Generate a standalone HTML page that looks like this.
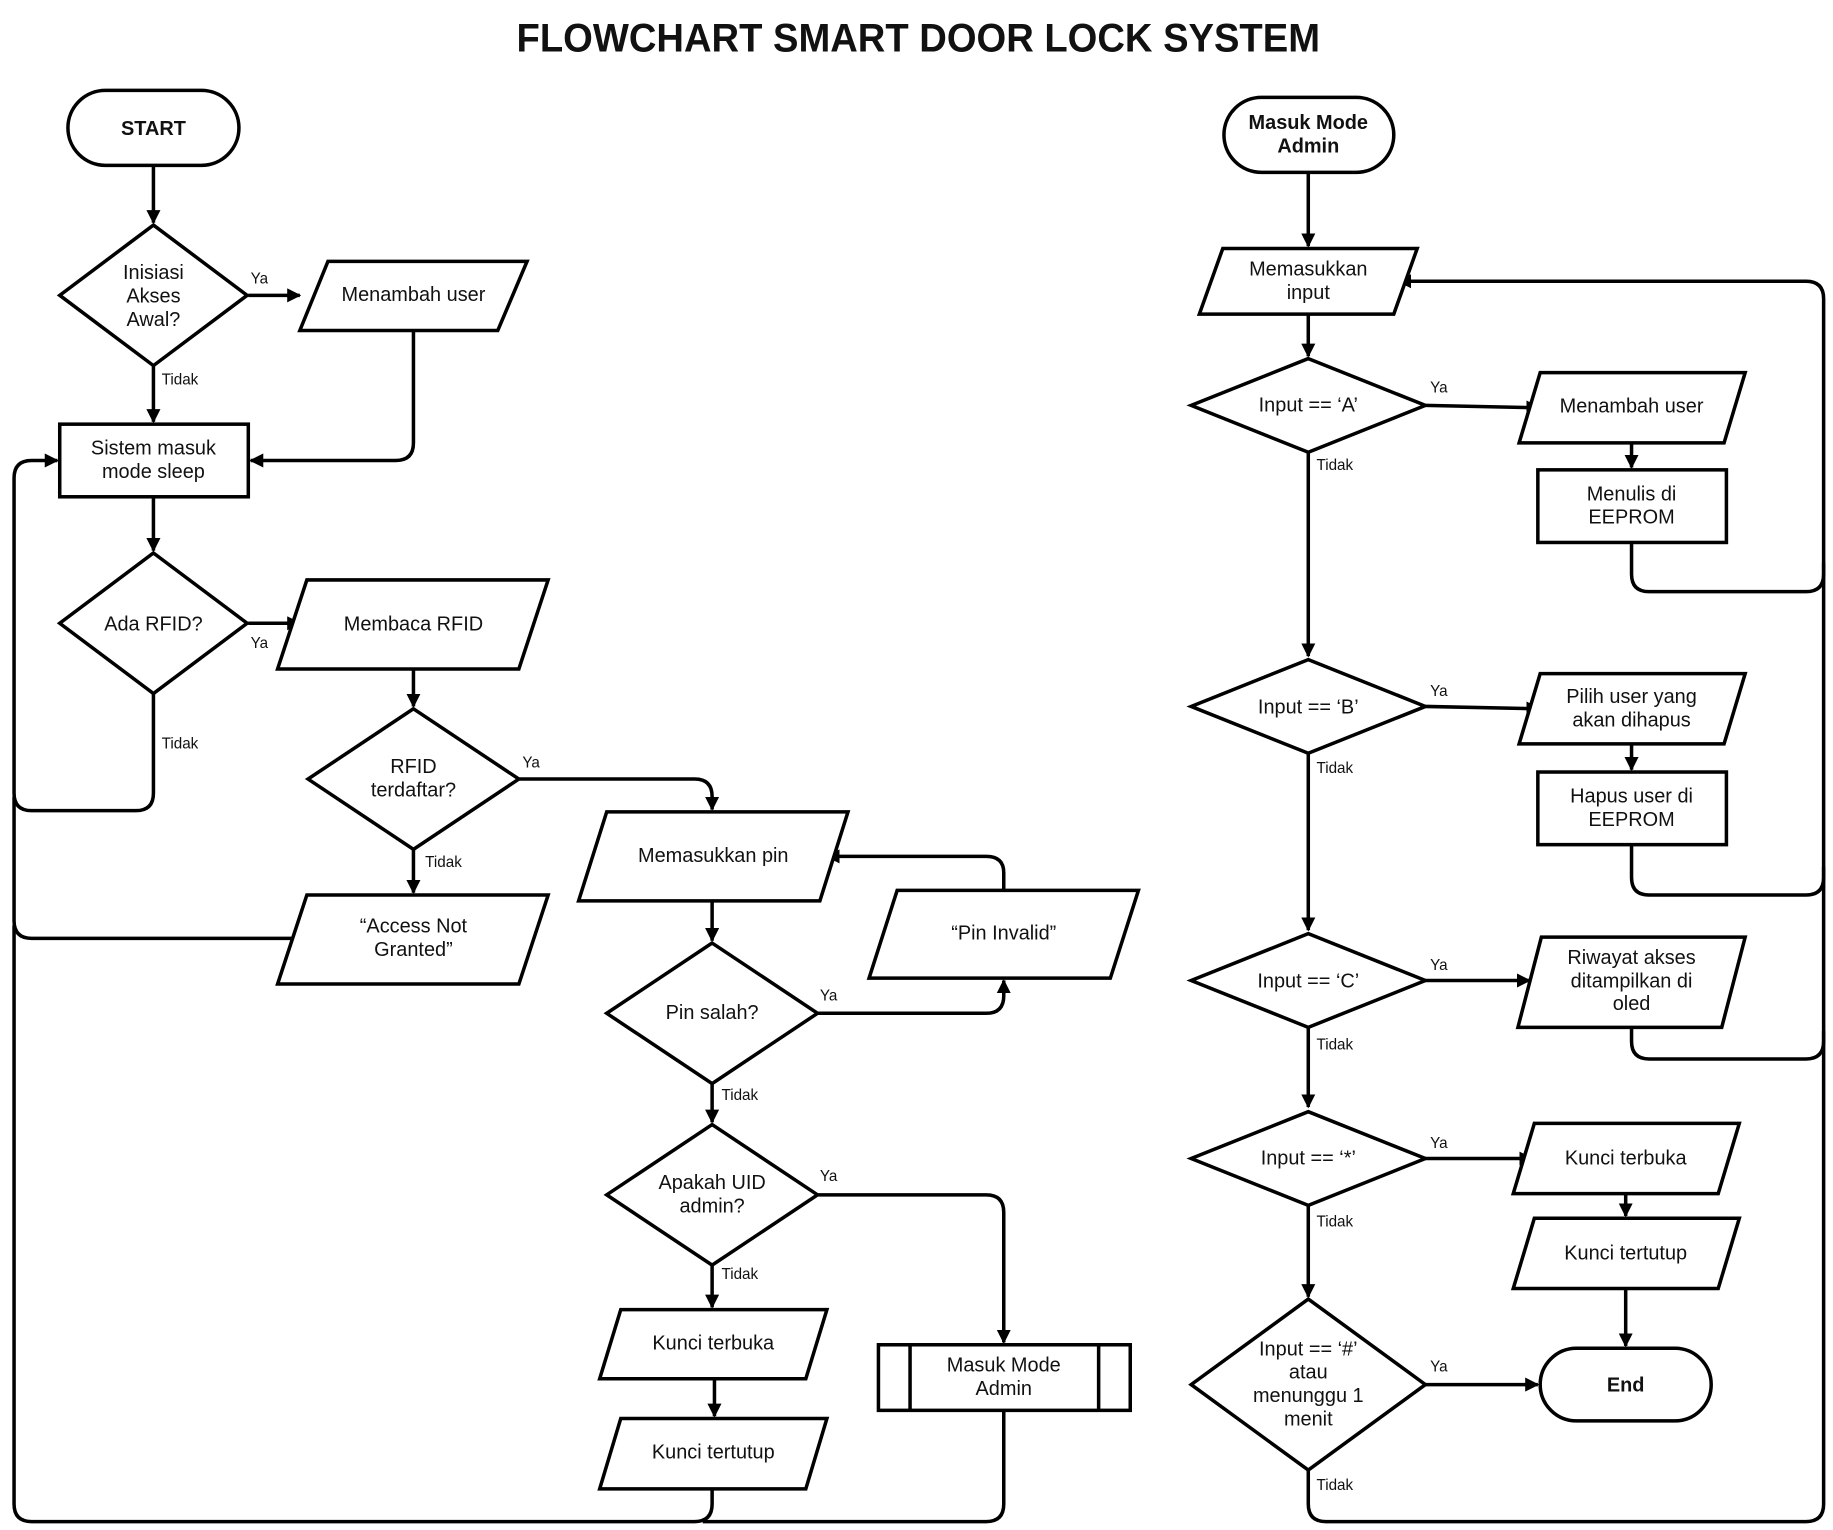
<!DOCTYPE html>
<html><head><meta charset="utf-8"><style>
html,body{margin:0;padding:0;background:#fff;}
svg{display:block}
text{font-family:"Liberation Sans",sans-serif;fill:#111;}
.t{font-size:17px;text-anchor:middle;}
.l{font-size:13px;}
.b{font-weight:bold;}
.s{fill:#fff;stroke:#000;stroke-width:3;}
.c{fill:none;stroke:#000;stroke-width:3;}
</style></head><body>
<svg width="1833" height="1530" viewBox="0 0 1565 1306" xmlns="http://www.w3.org/2000/svg">
<defs><marker id="a" viewBox="0 0 10 10" refX="9" refY="5" markerWidth="4" markerHeight="4" orient="auto" markerUnits="strokeWidth"><path d="M0,0 L10,5 L0,10 z" fill="#000"/></marker></defs>
<text x="441" y="44" class="b" style="font-size:34px" textLength="686" lengthAdjust="spacingAndGlyphs">FLOWCHART SMART DOOR LOCK SYSTEM</text>

<!-- connectors left -->
<g class="c" marker-end="url(#a)">
<path d="M131,141 V190"/>
<path d="M212,252 H256"/>
<path d="M131,312 V360"/>
<path d="M353,282 V378 Q353,393 338,393 H214"/>
<path d="M131,424 V470"/>
<path d="M212,532 H256"/>
<path d="M353,571 V603"/>
<path d="M131,592 V677 Q131,692 116,692 H27 Q12,692 12,677 V408 Q12,393 27,393 H49"/>
<path d="M443,665 H593 Q608,665 608,680 V691"/>
<path d="M353,725 V762"/>
<path d="M608,769 V803"/>
<path d="M698,865 H842 Q857,865 857,850 V837"/>
<path d="M857,760 V745 Q857,731 842,731 H706"/>
<path d="M608,925 V958"/>
<path d="M698,1020 H842 Q857,1020 857,1035 V1146"/>
<path d="M608,1080 V1116"/>
<path d="M610,1177 V1209"/>
</g>
<g class="c">
<path d="M250,801 H27 Q12,801 12,786 V680"/>
<path d="M608,1271 V1284 Q608,1299 593,1299 H27 Q12,1299 12,1284 V790"/>
<path d="M857,1204 V1284 Q857,1299 842,1299 H600"/>
</g>

<!-- connectors right -->
<g class="c" marker-end="url(#a)">
<path d="M1117,147 V210"/>
<path d="M1117,268 V304"/>
<path d="M1217,346 L1314,348"/>
<path d="M1393,378 V399"/>
<path d="M1117,386 V560"/>
<path d="M1217,603 L1314,605"/>
<path d="M1393,635 V657"/>
<path d="M1117,643 V794"/>
<path d="M1217,837 H1306"/>
<path d="M1117,877 V945"/>
<path d="M1217,989 H1308"/>
<path d="M1388,1019 V1038"/>
<path d="M1117,1029 V1107"/>
<path d="M1388,1100 V1149"/>
<path d="M1217,1182 H1313"/>
<path d="M1393,463 V490 Q1393,505 1408,505 H1542 Q1557,505 1557,490 V255 Q1557,240 1542,240 H1194"/>
</g>
<g class="c">
<path d="M1393,721 V749 Q1393,764 1408,764 H1542 Q1557,764 1557,749 V480"/>
<path d="M1393,877 V889 Q1393,904 1408,904 H1542 Q1557,904 1557,889 V740"/>
<path d="M1117,1255 V1284 Q1117,1299 1132,1299 H1542 Q1557,1299 1557,1284 V880"/>
</g>

<!-- shapes left -->
<rect class="s" x="58" y="77" width="146" height="64" rx="32"/>
<text x="131" y="115" class="t b">START</text>
<polygon class="s" points="131,192 211,252 131,312 51,252"/>
<text class="t"><tspan x="131" y="238">Inisiasi</tspan><tspan x="131" y="258">Akses</tspan><tspan x="131" y="278">Awal?</tspan></text>
<polygon class="s" points="280,223 450,223 425,282 256,282"/>
<text x="353" y="257" class="t">Menambah user</text>
<rect class="s" x="51" y="362" width="161" height="62"/>
<text class="t"><tspan x="131" y="388">Sistem masuk</tspan><tspan x="131" y="408">mode sleep</tspan></text>
<polygon class="s" points="131,472 211,532 131,592 51,532"/>
<text x="131" y="538" class="t">Ada RFID?</text>
<polygon class="s" points="262,495 468,495 443,571 237,571"/>
<text x="353" y="538" class="t">Membaca RFID</text>
<polygon class="s" points="353,605 443,665 353,725 263,665"/>
<text class="t"><tspan x="353" y="660">RFID</tspan><tspan x="353" y="680">terdaftar?</tspan></text>
<polygon class="s" points="262,764 468,764 443,840 237,840"/>
<text class="t"><tspan x="353" y="796">“Access Not</tspan><tspan x="353" y="816">Granted”</tspan></text>
<polygon class="s" points="518,693 724,693 700,769 494,769"/>
<text x="609" y="736" class="t">Memasukkan pin</text>
<polygon class="s" points="766,760 972,760 948,835 742,835"/>
<text x="857" y="802" class="t">“Pin Invalid”</text>
<polygon class="s" points="608,805 698,865 608,925 518,865"/>
<text x="608" y="870" class="t">Pin salah?</text>
<polygon class="s" points="608,960 698,1020 608,1080 518,1020"/>
<text class="t"><tspan x="608" y="1015">Apakah UID</tspan><tspan x="608" y="1035">admin?</tspan></text>
<polygon class="s" points="530,1118 706,1118 688,1177 512,1177"/>
<text x="609" y="1152" class="t">Kunci terbuka</text>
<polygon class="s" points="530,1211 706,1211 688,1271 512,1271"/>
<text x="609" y="1245" class="t">Kunci tertutup</text>
<rect class="s" x="750" y="1148" width="215" height="56"/>
<path class="c" d="M777,1148 V1204 M938,1148 V1204"/>
<text class="t"><tspan x="857" y="1171">Masuk Mode</tspan><tspan x="857" y="1191">Admin</tspan></text>

<!-- shapes right -->
<rect class="s" x="1045" y="83" width="145" height="64" rx="32"/>
<text class="t b"><tspan x="1117" y="110">Masuk Mode</tspan><tspan x="1117" y="130">Admin</tspan></text>
<polygon class="s" points="1044,212 1210,212 1190,268 1024,268"/>
<text class="t"><tspan x="1117" y="235">Memasukkan</tspan><tspan x="1117" y="255">input</tspan></text>
<polygon class="s" points="1117,306 1217,346 1117,386 1017,346"/>
<text x="1117" y="351" class="t">Input ==  ‘A’</text>
<polygon class="s" points="1117,563 1217,603 1117,643 1017,603"/>
<text x="1117" y="609" class="t">Input == ‘B’</text>
<polygon class="s" points="1117,797 1217,837 1117,877 1017,837"/>
<text x="1117" y="843" class="t">Input == ‘C’</text>
<polygon class="s" points="1117,949 1217,989 1117,1029 1017,989"/>
<text x="1117" y="994" class="t">Input == ‘*’</text>
<polygon class="s" points="1117,1109 1217,1182 1117,1255 1017,1182"/>
<text class="t"><tspan x="1117" y="1157">Input == ‘#’</tspan><tspan x="1117" y="1177">atau</tspan><tspan x="1117" y="1197">menunggu 1</tspan><tspan x="1117" y="1217">menit</tspan></text>
<polygon class="s" points="1315,318 1490,318 1472,378 1297,378"/>
<text x="1393" y="352" class="t">Menambah user</text>
<rect class="s" x="1313" y="401" width="161" height="62"/>
<text class="t"><tspan x="1393" y="427">Menulis di</tspan><tspan x="1393" y="447">EEPROM</tspan></text>
<polygon class="s" points="1315,575 1490,575 1472,635 1297,635"/>
<text class="t"><tspan x="1393" y="600">Pilih user yang</tspan><tspan x="1393" y="620">akan  dihapus</tspan></text>
<rect class="s" x="1313" y="659" width="161" height="62"/>
<text class="t"><tspan x="1393" y="685">Hapus user di</tspan><tspan x="1393" y="705">EEPROM</tspan></text>
<polygon class="s" points="1316,800 1490,800 1470,877 1296,877"/>
<text class="t"><tspan x="1393" y="823">Riwayat akses</tspan><tspan x="1393" y="843">ditampilkan di</tspan><tspan x="1393" y="862">oled</tspan></text>
<polygon class="s" points="1310,959 1485,959 1467,1019 1292,1019"/>
<text x="1388" y="994" class="t">Kunci terbuka</text>
<polygon class="s" points="1310,1040 1485,1040 1467,1100 1292,1100"/>
<text x="1388" y="1075" class="t">Kunci tertutup</text>
<rect class="s" x="1315" y="1151" width="146" height="62" rx="31"/>
<text x="1388" y="1188" class="t b">End</text>

<!-- labels -->
<g class="l">
<text x="214" y="242">Ya</text><text x="138" y="328">Tidak</text>
<text x="214" y="553">Ya</text><text x="138" y="639">Tidak</text>
<text x="446" y="655">Ya</text><text x="363" y="740">Tidak</text>
<text x="700" y="854">Ya</text><text x="616" y="939">Tidak</text>
<text x="700" y="1008">Ya</text><text x="616" y="1092">Tidak</text>
<text x="1221" y="335">Ya</text><text x="1124" y="401">Tidak</text>
<text x="1221" y="594">Ya</text><text x="1124" y="660">Tidak</text>
<text x="1221" y="828">Ya</text><text x="1124" y="896">Tidak</text>
<text x="1221" y="980">Ya</text><text x="1124" y="1047">Tidak</text>
<text x="1221" y="1171">Ya</text><text x="1124" y="1272">Tidak</text>
</g>
</svg>
</body></html>
